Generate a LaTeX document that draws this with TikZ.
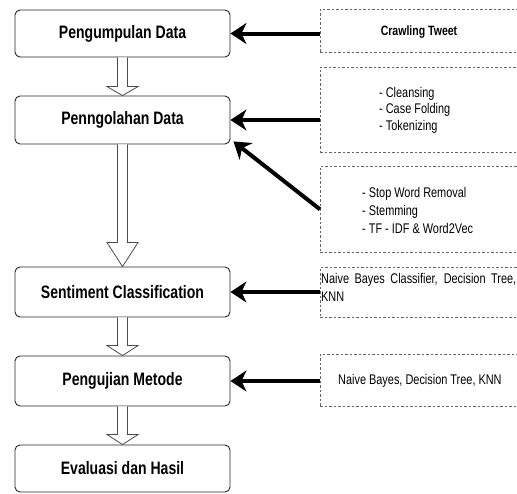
\documentclass[tikz,border=0pt]{standalone}
\usepackage{fontspec}
\setmainfont{Liberation Sans}[FakeStretch=0.78]
\usetikzlibrary{arrows.meta,calc}

\tikzset{
  stage/.style={draw=black!85, line width=0.9pt, rounded corners=5pt, fill=white,
    minimum width=215pt, inner sep=0pt, font=\fontsize{18}{21}\selectfont\bfseries},
  dbox/.style={draw=black!60, line width=0.7pt, dash pattern=on 2.5pt off 2pt,
    anchor=north west, minimum width=215pt, inner sep=0pt},
  note/.style={font=\fontsize{14}{17}\selectfont, inner sep=0pt},
  feed/.style={line width=4pt, -{Stealth[length=16pt,width=21pt,inset=5pt]}},
  hollow/.style={draw=black!70, line width=0.8pt, fill=white, line join=miter}
}

% hollow block arrow between two stages: #1 source, #2 target, #3 head length
\newcommand\hollowarrow[3]{%
  \path[hollow]
    ($(#1.south)+(-5,0)$) -- ($(#2.north)+(-5,-#3)$) -- ($(#2.north)+(-15.5,-#3)$)
    -- (#2.north) -- ($(#2.north)+(15.5,-#3)$) -- ($(#2.north)+(5,-#3)$)
    -- ($(#1.south)+(5,0)$);}

\begin{document}
\begin{tikzpicture}[x=1pt,y=-1pt]
\useasboundingbox (0,0) rectangle (517,493);
\clip (0,0) rectangle (517,493);

% main process stages
\node[stage, minimum height=47pt] (b1) at (122.5,33.5) {Pengumpulan Data};
\node[stage, minimum height=48pt] (b2) at (122.5,120) {Penngolahan Data};
\node[stage, minimum height=50pt] (b3) at (122.5,292) {Sentiment Classification};
\node[stage, minimum height=50pt] (b4) at (122.5,381) {Pengujian Metode};
\node[stage, minimum height=47pt] (b5) at (122.5,468.5) {Evaluasi dan Hasil};

% flow between stages
\hollowarrow{b1}{b2}{9}
\hollowarrow{b2}{b3}{24}
\hollowarrow{b3}{b4}{10}
\hollowarrow{b4}{b5}{10}

% dashed input boxes
\node[dbox, minimum height=43pt] (d1) at (320,9) {};
\node[dbox, minimum height=85pt] (d2) at (320,67) {};
\node[dbox, minimum height=86pt] (d3) at (320,166) {};
\node[dbox, minimum height=50pt] (d4) at (320,267) {};
\node[dbox, minimum height=52pt] (d5) at (320,354) {};

% box contents
\node[note, font=\fontsize{13.5}{16}\selectfont\bfseries] (t1) at (419,32) {Crawling Tweet};
\node[note, anchor=west, align=left, font=\fontsize{14}{16.5}\selectfont] (t2) at (379,110)
  {- Cleansing\\- Case Folding\\- Tokenizing};
\node[note, anchor=west, align=left, font=\fontsize{14}{18}\selectfont] (t3) at (362,210)
  {- Stop Word Removal\\- Stemming\\- TF - IDF \& Word2Vec};
\node[note, anchor=north west, text width=195pt, align=justify, font=\fontsize{14}{18}\selectfont] (t4) at (321,273.5)
  {Naive Bayes Classifier, Decision Tree, KNN};
\node[note, anchor=west] (t5) at (338,381) {Naive Bayes, Decision Tree, KNN};

% inputs feeding the stages
\draw[feed] (b1.east -| d1.west) -- (b1.east);
\draw[feed] (b2.east -| d2.west) -- (b2.east);
\draw[feed] (d3.west) -- ($(b2.south east)+(3,-3)$);
\draw[feed] (b3.east -| d4.west) -- (b3.east);
\draw[feed] (b4.east -| d5.west) -- (b4.east);
\end{tikzpicture}
\end{document}
